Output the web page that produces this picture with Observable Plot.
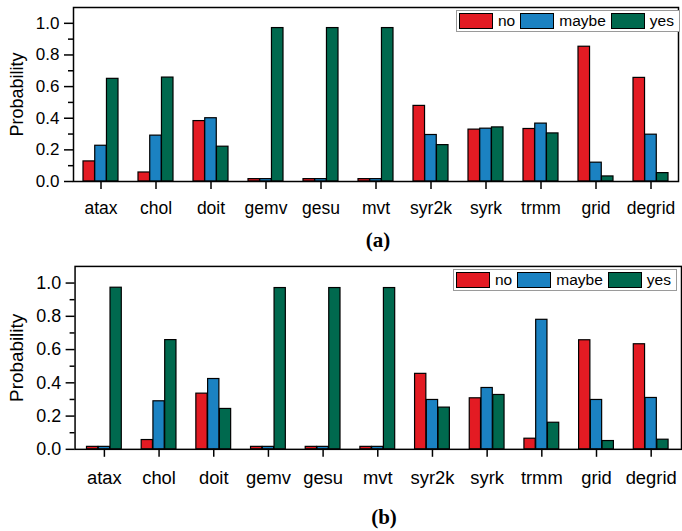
<!DOCTYPE html>
<html><head><meta charset="utf-8">
<script src="https://cdn.jsdelivr.net/npm/d3@7"></script>
<script src="https://cdn.jsdelivr.net/npm/@observablehq/plot@0.6"></script>
<style>
html,body{margin:0;padding:0;background:#fff;overflow:hidden}
#root{position:relative;width:682px;height:531px;overflow:hidden;font-family:"Liberation Sans",Arial,Helvetica,sans-serif;color:#000}
.panel{position:absolute;left:0}
.legend{position:absolute;display:flex;align-items:center;border:1px solid #9a9a9a;background:#fff;font-size:15.5px;height:22px;box-sizing:border-box;padding-left:2px;white-space:nowrap}
.sw{width:34px;height:16px;border:1.3px solid #000;box-sizing:border-box}
.lt{margin:0 5px 0 5px}
.cap{position:absolute;font-family:"Liberation Serif","Times New Roman",serif;font-weight:bold;font-size:21px;line-height:24px;transform:translateX(-50%)}
</style>
</head><body>
<div id="root"></div>
<script>
const categories = ["atax","chol","doit","gemv","gesu","mvt","syr2k","syrk","trmm","grid","degrid"];
const seriesNames = ["no","maybe","yes"];
const seriesColors = ["#e31b23","#1b82c2","#00694e"];
const yLabel = "Probability";
// panel (a)
const noA    = [0.127,0.057,0.382,0.015,0.015,0.015,0.478,0.328,0.332,0.852,0.655];
const maybeA = [0.226,0.290,0.400,0.015,0.015,0.015,0.294,0.334,0.366,0.119,0.296];
const yesA   = [0.649,0.657,0.220,0.970,0.970,0.970,0.230,0.342,0.304,0.032,0.053];
// panel (b)
const noB    = [0.015,0.056,0.335,0.015,0.015,0.015,0.454,0.307,0.064,0.656,0.632];
const maybeB = [0.015,0.289,0.423,0.015,0.015,0.015,0.297,0.369,0.779,0.297,0.309];
const yesB   = [0.972,0.657,0.243,0.970,0.970,0.970,0.251,0.327,0.160,0.050,0.058];
const yMajor = [0,0.2,0.4,0.6,0.8,1.0];
const yMinor = [0.1,0.3,0.5,0.7,0.9];

const PAD_IN = 0.36, PAD_OUT = 0.18;

function panel(no, maybe, yes, o) {
  const cols = [no, maybe, yes];
  const plotW = o.width - o.ml - o.mr;
  const step = plotW / (categories.length - PAD_IN + 2 * PAD_OUT);
  const bw = step * (1 - PAD_IN);
  const sub = bw / seriesNames.length;
  const bars = seriesNames.map((s, k) => {
    const rows = categories.map((c, i) => ({cat: c, s, v: cols[k][i]}));
    return Plot.barY(rows, {x: "cat", y: "v", fill: "s", stroke: "black", strokeWidth: 1.2,
      insetLeft: k * sub, insetRight: (seriesNames.length - 1 - k) * sub});
  });
  return Plot.plot({
    width: o.width, height: o.height,
    marginTop: o.mt, marginLeft: o.ml, marginRight: o.mr, marginBottom: o.mb,
    style: {fontFamily: '"Liberation Sans",Arial,Helvetica,sans-serif', background: "white", color: "black", overflow: "visible"},
    x: {domain: categories, paddingInner: PAD_IN, paddingOuter: PAD_OUT, label: null},
    y: {domain: [0, 1.1], label: null},
    color: {domain: seriesNames, range: seriesColors},
    marks: [
      ...bars,
      Plot.frame({stroke: "black", strokeWidth: 1.5}),
      Plot.axisY({ticks: yMinor, tickSize: 5, tickFormat: () => "", label: null, strokeWidth: 1.5}),
      Plot.axisY({ticks: yMajor, tickSize: 9, tickPadding: 5, tickFormat: d3.format(".1f"), fontSize: o.fs,
        label: null, strokeWidth: 1.5}),
      Plot.axisX({tickSize: 8, tickPadding: o.tp, fontSize: o.xfs, label: null, strokeWidth: 1.5}),
      Plot.text([yLabel], {text: d => d, frameAnchor: "left", textAnchor: "middle", lineAnchor: "middle",
        rotate: -90, dx: o.ldx, fontSize: o.lfs, fill: "black"})
    ]
  });
}

function legend(left, top) {
  const L = document.createElement("div");
  L.className = "legend";
  L.style.left = left + "px";
  L.style.top = top + "px";
  seriesNames.forEach((s, k) => {
    const sw = document.createElement("div");
    sw.className = "sw";
    sw.style.background = seriesColors[k];
    const t = document.createElement("span");
    t.className = "lt";
    t.textContent = s;
    L.appendChild(sw); L.appendChild(t);
  });
  return L;
}

function caption(text, cx, top) {
  const c = document.createElement("div");
  c.className = "cap";
  c.style.left = cx + "px";
  c.style.top = top + "px";
  c.textContent = text;
  return c;
}

const root = document.getElementById("root");
const A = panel(noA, maybeA, yesA, {width: 682, height: 228, mt: 7, ml: 73, mr: 4, mb: 47, fs: 17, xfs: 17.5, tp: 12, ldx: -56, lfs: 18});
A.classList.add("panel"); A.style.top = "0px";
root.appendChild(A);
root.appendChild(legend(456, 10));
root.appendChild(caption("(a)", 378, 228));

const B = panel(noB, maybeB, yesB, {width: 686, height: 249, mt: 13, ml: 75, mr: 1, mb: 52, fs: 18, xfs: 18.5, tp: 14, ldx: -58, lfs: 19});
B.classList.add("panel"); B.style.top = "253px";
root.appendChild(B);
root.appendChild(legend(453, 269));
root.appendChild(caption("(b)", 384, 505));
</script>
</body></html>
